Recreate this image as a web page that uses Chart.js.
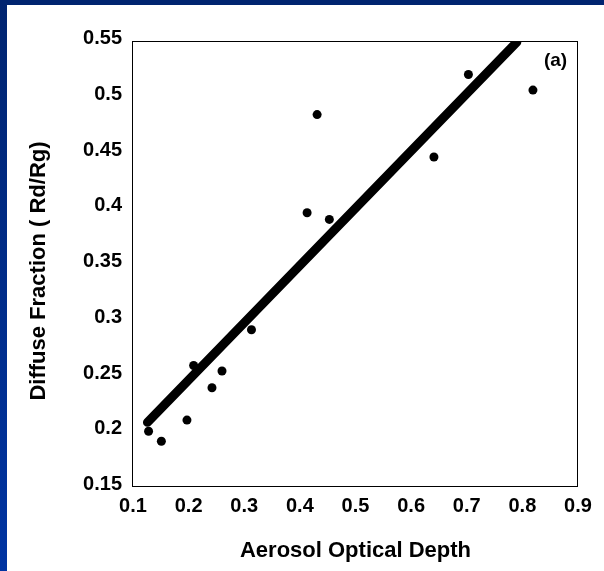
<!DOCTYPE html>
<html><head><meta charset="utf-8">
<script src="https://cdn.jsdelivr.net/npm/chart.js@4.4.0/dist/chart.umd.min.js"></script>
<style>
html,body{margin:0;padding:0;background:#fff;}
#wrap{position:relative;width:604px;height:571px;overflow:hidden;background:#fff;}
#topbar{position:absolute;left:0;top:0;width:604px;height:5px;background:#002470;}
#leftbar{position:absolute;left:0;top:0;width:7px;height:571px;background:linear-gradient(#002470,#0034a2);}
#c{position:absolute;left:7px;top:5px;}
</style></head><body>
<div id="wrap"><div id="topbar"></div><div id="leftbar"></div>
<canvas id="c" width="597" height="566"></canvas></div>
<script>
// Observed points
const aodValues     = [0.128, 0.151, 0.197, 0.209, 0.242, 0.260, 0.313, 0.413, 0.431, 0.453, 0.641, 0.703, 0.819];
const diffuseValues = [0.200, 0.191, 0.210, 0.259, 0.239, 0.254, 0.291, 0.396, 0.484, 0.390, 0.446, 0.520, 0.506];
// Regression line end points
const fitX = [0.126, 0.790];
const fitY = [0.208, 0.549];
// Axis ticks
const xTicks = [0.1, 0.2, 0.3, 0.4, 0.5, 0.6, 0.7, 0.8, 0.9];
const xTickLabels = ['0.1','0.2','0.3','0.4','0.5','0.6','0.7','0.8','0.9'];
const yTicks = [0.15, 0.2, 0.25, 0.3, 0.35, 0.4, 0.45, 0.5, 0.55];
const yTickLabels = ['0.15','0.2','0.25','0.3','0.35','0.4','0.45','0.5','0.55'];
const xTitle = 'Aerosol Optical Depth';
const yTitle = 'Diffuse Fraction ( Rd/Rg)';
const panelLabel = '(a)';

const FAM = '"Liberation Sans", Arial, sans-serif';

const framePlugin = {
  id: 'frame',
  afterDatasetsDraw(chart) {
    const {ctx, chartArea: a} = chart;
    ctx.save();
    ctx.strokeStyle = '#000';
    ctx.lineWidth = 1;
    ctx.strokeRect(Math.round(a.left) - 0.5, Math.round(a.top) + 0.5,
                   Math.round(a.right - a.left), Math.round(a.bottom - a.top) - 1);
    ctx.fillStyle = '#000';
    ctx.font = 'bold 19px ' + FAM;
    ctx.textAlign = 'center';
    ctx.textBaseline = 'middle';
    ctx.fillText(panelLabel, a.right - 22.5, a.top + 19.5);
    // y title
    ctx.font = 'bold 22px ' + FAM;
    ctx.translate(31.5, (a.top + a.bottom) / 2 + 7);
    ctx.rotate(-Math.PI / 2);
    ctx.fillText(yTitle, 0, 0);
    ctx.restore();
  }
};

new Chart(document.getElementById('c'), {
  type: 'scatter',
  data: {
    datasets: [
      {
        type: 'line',
        data: fitX.map((x, i) => ({x, y: fitY[i]})),
        borderColor: '#000',
        borderWidth: 9,
        borderCapStyle: 'round',
        pointRadius: 0,
        fill: false,
        order: 2
      },
      {
        data: aodValues.map((x, i) => ({x, y: diffuseValues[i]})),
        backgroundColor: '#000',
        borderColor: '#000',
        pointRadius: 4.5,
        pointBorderWidth: 0,
        order: 1
      }
    ]
  },
  options: {
    responsive: false,
    animation: false,
    devicePixelRatio: 1,
    layout: {padding: {top: 36, right: 26, left: 0, bottom: 0}},
    plugins: {legend: {display: false}, tooltip: {enabled: false}},
    scales: {
      x: {
        type: 'linear', min: 0.1, max: 0.9,
        afterBuildTicks: s => { s.ticks = xTicks.map(v => ({value: v})); },
        afterFit: s => { s.height = 84; },
        grid: {display: false, drawTicks: false},
        border: {display: false},
        ticks: {
          padding: 7, color: '#000', maxRotation: 0, autoSkip: false,
          font: {family: FAM, size: 20, weight: 'bold'},
          callback: (v, i) => xTickLabels[i]
        },
        title: {
          display: true, text: xTitle, color: '#000',
          font: {family: FAM, size: 22, weight: 'bold'},
          padding: {top: 0, bottom: 7}
        }
      },
      y: {
        type: 'linear', min: 0.15, max: 0.55,
        afterBuildTicks: s => { s.ticks = yTicks.map(v => ({value: v})); },
        afterFit: s => { s.width = 126; },
        grid: {display: false, drawTicks: false},
        border: {display: false},
        ticks: {
          padding: 11, color: '#000', autoSkip: false, labelOffset: -2.5,
          font: {family: FAM, size: 20, weight: 'bold'},
          callback: (v, i) => yTickLabels[i]
        }
      }
    }
  },
  plugins: [framePlugin]
});
</script>
</body></html>
